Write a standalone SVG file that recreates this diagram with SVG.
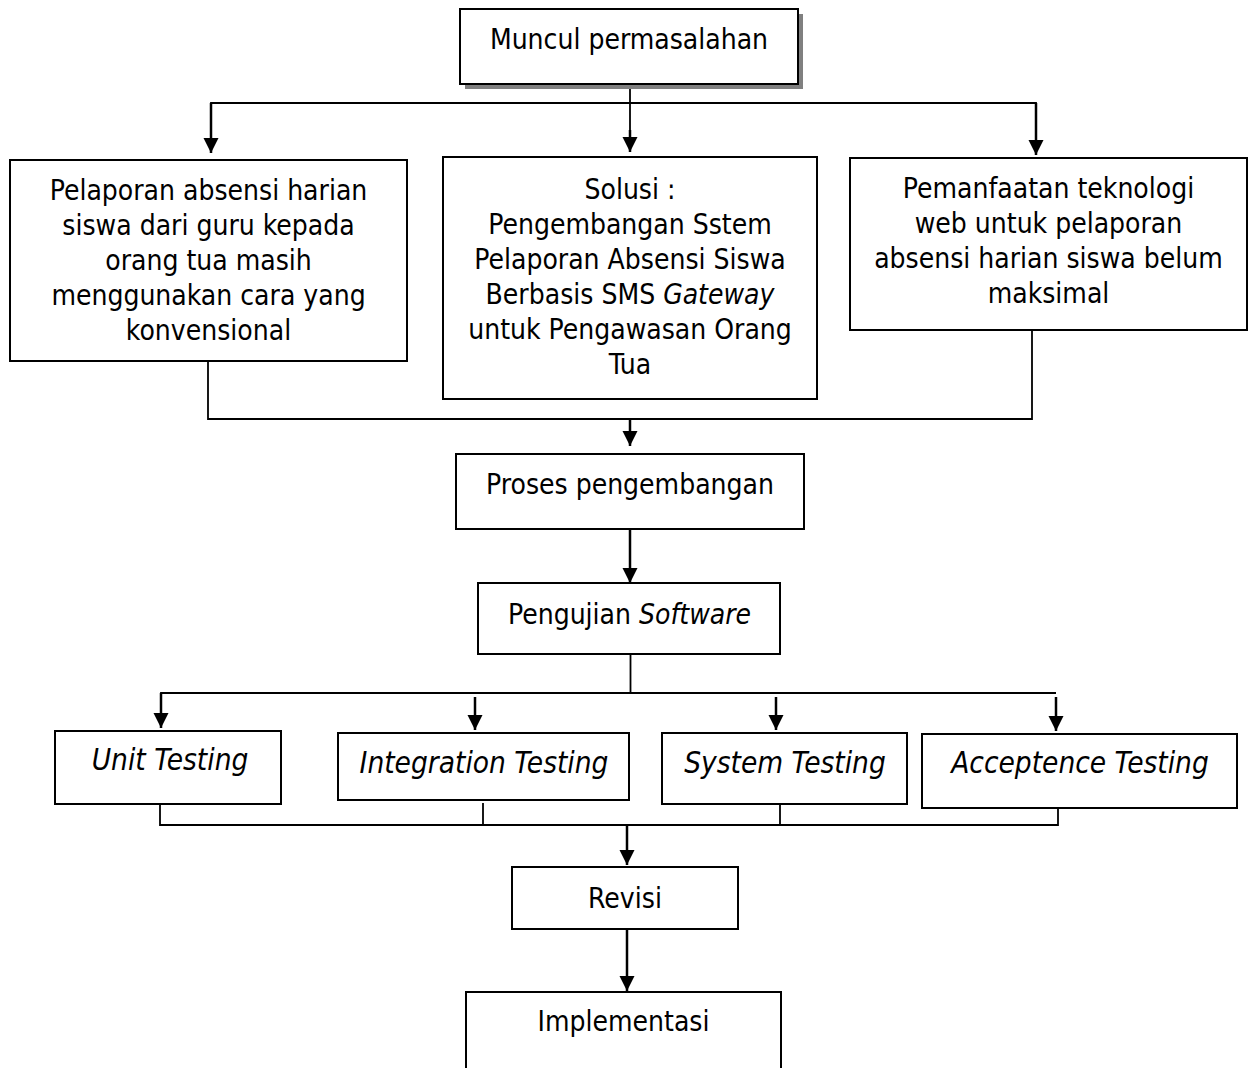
<svg xmlns="http://www.w3.org/2000/svg" width="1255" height="1068" viewBox="0 0 1255 1068">
<style>
.box{fill:#fff;stroke:#000;stroke-width:2}
.t{font-family:"DejaVu Sans Condensed","DejaVu Sans",sans-serif;font-stretch:condensed;font-size:28px;fill:#000;text-anchor:middle}
.i{font-style:italic}
.tt{font-size:29.5px}
.ln{fill:none;stroke:#000;stroke-width:1.8}
.ar{fill:none;stroke:#000;stroke-width:2.5;marker-end:url(#ah)}
</style>
<defs>
<marker id="ah" markerUnits="userSpaceOnUse" markerWidth="16" markerHeight="16" refX="15" refY="7.5" orient="auto">
<path d="M0,0 L15,7.5 L0,15 Z" fill="#000"/>
</marker>
</defs>
<rect width="1255" height="1068" fill="#fff"/>
<g id="connectors">
<line class="ln" x1="630" y1="84" x2="630" y2="140"/>
<line class="ar" x1="630" y1="130" x2="630" y2="152"/>
<polyline class="ln" points="211,115 211,103 1036,103 1036,115"/>
<line class="ar" x1="211" y1="103" x2="211" y2="153"/>
<line class="ar" x1="1036" y1="103" x2="1036" y2="155"/>
<polyline class="ln" points="208,360 208,419 1032,419 1032,330"/>
<line class="ar" x1="630" y1="419" x2="630" y2="446"/>
<line class="ar" x1="630" y1="529" x2="630" y2="583"/>
<line class="ln" x1="630.5" y1="654" x2="630.5" y2="693"/>
<polyline class="ln" points="161,705 161,693 1056,693"/>
<line class="ar" x1="161" y1="693" x2="161" y2="728"/>
<line class="ar" x1="475" y1="697" x2="475" y2="730"/>
<line class="ar" x1="776" y1="697" x2="776" y2="730"/>
<line class="ar" x1="1056" y1="697" x2="1056" y2="731"/>
<polyline class="ln" points="160,804 160,825 1058,825 1058,808"/>
<line class="ln" x1="483" y1="803" x2="483" y2="825"/>
<line class="ln" x1="780" y1="804" x2="780" y2="825"/>
<line class="ar" x1="627" y1="825" x2="627" y2="865"/>
<line class="ar" x1="627" y1="929" x2="627" y2="991"/>
</g>
<g id="n-muncul">
<rect x="465" y="14" width="338" height="75" fill="#808080"/>
<rect class="box" x="460" y="9" width="338" height="75"/>
<text class="t" x="629" y="49">Muncul permasalahan</text>
</g>
<g id="n-pelaporan">
<rect class="box" x="10" y="160" width="397" height="201"/>
<text class="t" x="208.5" y="200">Pelaporan absensi harian</text>
<text class="t" x="208.5" y="235">siswa dari guru kepada</text>
<text class="t" x="208.5" y="270">orang tua masih</text>
<text class="t" x="208.5" y="305">menggunakan cara yang</text>
<text class="t" x="208.5" y="340">konvensional</text>
</g>
<g id="n-solusi">
<rect class="box" x="443" y="157" width="374" height="242"/>
<text class="t" x="630" y="199">Solusi :</text>
<text class="t" x="630" y="234">Pengembangan Sstem</text>
<text class="t" x="630" y="269">Pelaporan Absensi Siswa</text>
<text class="t" x="630" y="304">Berbasis SMS <tspan class="i">Gateway</tspan></text>
<text class="t" x="630" y="339">untuk Pengawasan Orang</text>
<text class="t" x="630" y="374">Tua</text>
</g>
<g id="n-pemanfaatan">
<rect class="box" x="850" y="158" width="397" height="172"/>
<text class="t" x="1048.5" y="198">Pemanfaatan teknologi</text>
<text class="t" x="1048.5" y="233">web untuk pelaporan</text>
<text class="t" x="1048.5" y="268">absensi harian siswa belum</text>
<text class="t" x="1048.5" y="303">maksimal</text>
</g>
<g id="n-proses">
<rect class="box" x="456" y="454" width="348" height="75"/>
<text class="t" x="630" y="494">Proses pengembangan</text>
</g>
<g id="n-pengujian">
<rect class="box" x="478" y="583" width="302" height="71"/>
<text class="t" x="629.5" y="624">Pengujian <tspan class="i">Software</tspan></text>
</g>
<g id="n-unit">
<rect class="box" x="55" y="731" width="226" height="73"/>
<text class="t i tt" x="170" y="770">Unit Testing</text>
</g>
<g id="n-integration">
<rect class="box" x="338" y="733" width="291" height="67"/>
<text class="t i tt" x="484" y="773">Integration Testing</text>
</g>
<g id="n-system">
<rect class="box" x="662" y="733" width="245" height="71"/>
<text class="t i tt" x="785" y="773">System Testing</text>
</g>
<g id="n-acceptence">
<rect class="box" x="922" y="734" width="315" height="74"/>
<text class="t i tt" x="1080" y="773">Acceptence Testing</text>
</g>
<g id="n-revisi">
<rect class="box" x="512" y="867" width="226" height="62"/>
<text class="t" x="625" y="908">Revisi</text>
</g>
<g id="n-implementasi">
<rect class="box" x="466" y="992" width="315" height="90"/>
<text class="t" x="623.5" y="1031">Implementasi</text>
</g>
</svg>
